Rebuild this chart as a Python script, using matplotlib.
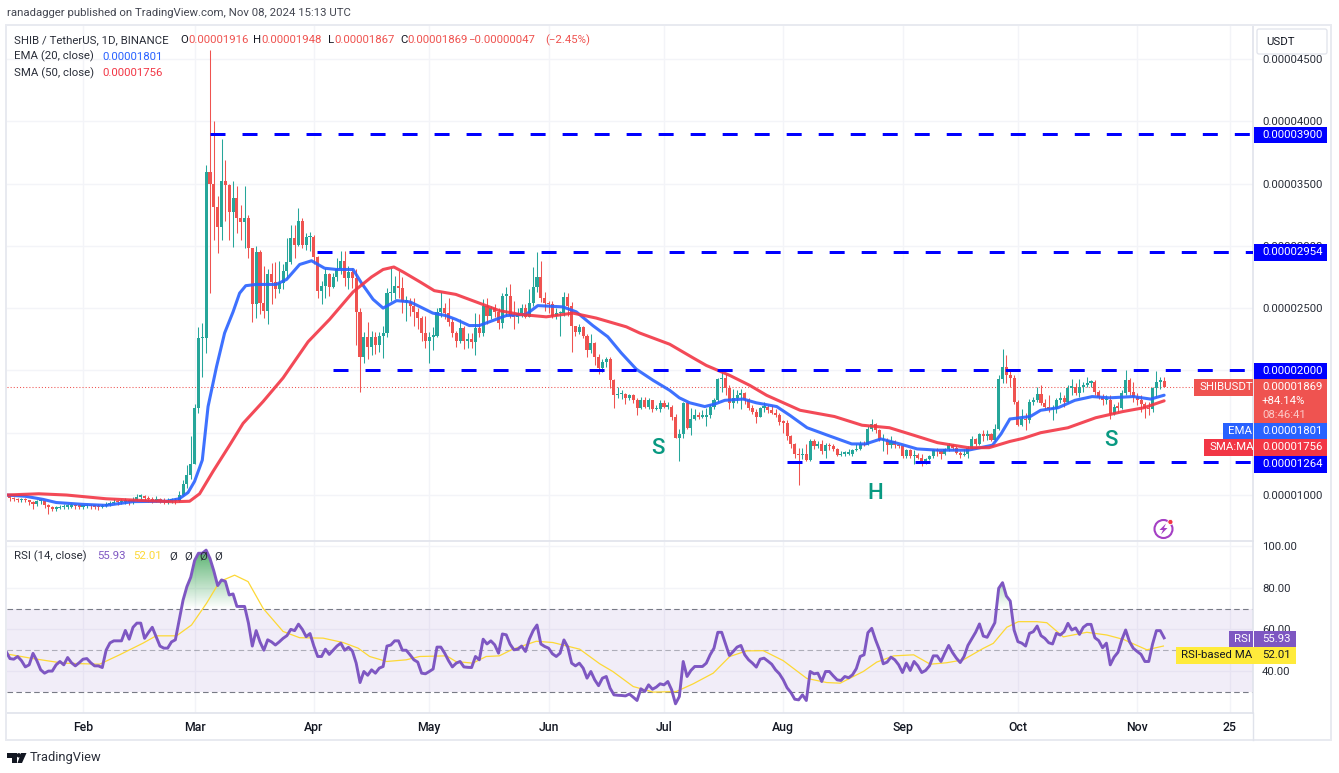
import numpy as np
import matplotlib
matplotlib.use("Agg")
import matplotlib.pyplot as plt
from matplotlib.patches import Rectangle, FancyBboxPatch, Polygon, Circle
from matplotlib.lines import Line2D
from matplotlib.path import Path
from matplotlib.transforms import Affine2D
from matplotlib.colors import to_rgb

# ---------- prices, in units of 0.00001 USDT ----------
first_open = 1.00
closes_jan = [.99,.975,.965,.96,.965,.96,.945,.925,.95,.955,.92,.905,.89,.895,.90,.905,.905,.92,.91,.905]
highs_jan = [1.01,.995,.985,.975,.98,.975,.96,.95,.96,.97,.955,.925,.915,.91,.92,.925,.93,.935,.93,.925]
lows_jan = [.96,.955,.95,.945,.945,.94,.92,.885,.91,.93,.895,.85,.87,.875,.885,.89,.89,.895,.89,.885]
closes_feb = [.91,.915,.91,.905,.90,.915,.92,.935,.945,.94,.945,.95,.945,.96,.985,.985,.98,.965,.955,.965,.955,.95,.955,.955,.95,1.0,1.09,1.16,1.25]
highs_feb = [.92,.93,.925,.92,.925,.93,.94,.95,.965,.96,.965,.975,.965,.985,1.01,1.01,1.0,.99,.985,.99,.98,.975,.98,.975,.975,1.03,1.12,1.24,1.47]
lows_feb = [.89,.895,.89,.885,.88,.895,.90,.91,.925,.92,.925,.93,.92,.93,.955,.96,.95,.945,.935,.94,.935,.93,.93,.935,.93,.945,.99,1.06,1.13]
closes_mar = [1.70,2.26,2.26,3.59,3.50,3.31,3.15,3.52,3.49,3.27,3.38,3.22,3.19,3.22,2.98,2.53,2.95,2.54,2.48,2.77,2.71,2.65,2.70,2.80,2.87,3.06,3.01,3.20,3.01,3.07,3.07]
highs_mar = [1.73,2.35,2.38,3.65,4.57,4.00,3.40,3.86,3.69,3.50,3.52,3.48,3.33,3.48,3.25,2.97,3.00,2.97,2.84,2.81,2.86,2.87,2.88,2.85,3.06,3.17,3.17,3.30,3.22,3.10,3.11]
lows_mar = [1.25,1.66,1.95,2.14,2.62,3.05,2.94,3.05,3.20,3.05,2.99,3.10,3.05,2.98,2.90,2.39,2.42,2.45,2.42,2.37,2.53,2.58,2.62,2.65,2.74,2.85,2.90,3.00,2.98,2.97,2.96]
closes_apr = [2.91,2.64,2.68,2.77,2.67,2.75,2.81,2.88,2.74,2.79,2.74,2.47,2.11,2.27,2.19,2.27,2.20,2.28,2.30,2.62,2.62,2.68,2.66,2.55,2.55,2.52,2.47,2.42,2.30,2.24]
highs_apr = [3.09,2.92,2.72,2.82,2.78,2.78,2.90,2.96,2.96,2.84,2.82,2.81,2.50,2.31,2.39,2.32,2.31,2.31,2.36,2.66,2.82,2.76,2.80,2.75,2.60,2.58,2.58,2.50,2.44,2.44]
lows_apr = [2.85,2.58,2.53,2.58,2.60,2.66,2.72,2.77,2.68,2.65,2.66,2.20,1.83,2.06,2.09,2.12,2.13,2.15,2.10,2.27,2.56,2.57,2.58,2.46,2.40,2.44,2.36,2.33,2.24,2.18]
closes_may = [2.27,2.28,2.47,2.50,2.46,2.39,2.30,2.24,2.34,2.24,2.25,2.23,2.34,2.30,2.52,2.44,2.50,2.47,2.38,2.60,2.60,2.44,2.43,2.46,2.50,2.43,2.54,2.67,2.75,2.58,2.54]
highs_may = [2.31,2.35,2.50,2.63,2.54,2.58,2.42,2.32,2.41,2.36,2.30,2.30,2.46,2.45,2.57,2.58,2.52,2.53,2.50,2.62,2.67,2.69,2.56,2.50,2.53,2.53,2.65,2.83,2.95,2.88,2.63]
lows_may = [2.06,2.16,2.27,2.43,2.41,2.36,2.27,2.19,2.22,2.17,2.18,2.18,2.12,2.27,2.28,2.37,2.41,2.43,2.33,2.34,2.44,2.42,2.33,2.38,2.43,2.42,2.43,2.52,2.63,2.55,2.48]
closes_jun = [2.53,2.44,2.46,2.46,2.59,2.52,2.36,2.31,2.35,2.28,2.16,2.22,2.11,2.02,2.07,2.09,1.92,1.80,1.81,1.81,1.78,1.80,1.76,1.70,1.76,1.71,1.76,1.69,1.69,1.74]
highs_jun = [2.56,2.56,2.50,2.48,2.63,2.62,2.55,2.36,2.37,2.36,2.29,2.29,2.23,2.13,2.09,2.11,2.11,1.93,1.87,1.84,1.82,1.81,1.81,1.78,1.79,1.79,1.78,1.76,1.72,1.76]
lows_jun = [2.46,2.42,2.41,2.28,2.44,2.44,2.15,2.28,2.29,2.26,2.11,2.14,2.04,1.97,1.99,2.03,1.86,1.70,1.78,1.77,1.73,1.76,1.74,1.64,1.69,1.70,1.69,1.67,1.68,1.67]
closes_jul = [1.71,1.71,1.63,1.46,1.49,1.74,1.54,1.61,1.64,1.63,1.63,1.64,1.71,1.76,1.93,1.94,1.86,1.74,1.78,1.80,1.82,1.76,1.70,1.67,1.63,1.70,1.71,1.68,1.66,1.64,1.59]
highs_jul = [1.76,1.75,1.72,1.65,1.53,1.75,1.75,1.70,1.69,1.67,1.68,1.70,1.73,1.78,1.94,2.01,1.97,1.88,1.85,1.84,1.85,1.83,1.78,1.72,1.69,1.71,1.75,1.72,1.72,1.69,1.66]
lows_jul = [1.70,1.69,1.60,1.46,1.27,1.46,1.53,1.48,1.60,1.61,1.62,1.55,1.62,1.69,1.75,1.83,1.80,1.69,1.70,1.74,1.69,1.73,1.68,1.65,1.58,1.63,1.67,1.66,1.65,1.63,1.56]
closes_aug = [1.58,1.47,1.41,1.33,1.32,1.33,1.28,1.43,1.39,1.41,1.35,1.40,1.39,1.37,1.32,1.33,1.33,1.33,1.36,1.37,1.41,1.40,1.53,1.57,1.52,1.44,1.44,1.40,1.43,1.40,1.39]
highs_aug = [1.60,1.60,1.48,1.42,1.38,1.38,1.41,1.45,1.45,1.43,1.44,1.42,1.42,1.41,1.38,1.35,1.35,1.37,1.37,1.41,1.43,1.43,1.55,1.61,1.58,1.53,1.49,1.46,1.47,1.44,1.41]
lows_aug = [1.50,1.44,1.38,1.30,1.08,1.29,1.27,1.27,1.37,1.38,1.33,1.30,1.36,1.35,1.31,1.31,1.31,1.32,1.31,1.35,1.36,1.39,1.40,1.51,1.50,1.43,1.35,1.33,1.38,1.38,1.38]
closes_sep = [1.31,1.36,1.31,1.32,1.30,1.26,1.29,1.31,1.36,1.35,1.33,1.37,1.40,1.38,1.34,1.32,1.33,1.38,1.45,1.41,1.49,1.47,1.49,1.44,1.53,1.93,2.03,1.96,1.94,1.75]
highs_sep = [1.40,1.37,1.37,1.36,1.34,1.33,1.30,1.32,1.37,1.38,1.36,1.38,1.42,1.41,1.39,1.35,1.37,1.39,1.47,1.46,1.50,1.52,1.52,1.50,1.57,1.96,2.17,2.12,2.00,1.96]
lows_sep = [1.30,1.30,1.30,1.25,1.29,1.23,1.25,1.28,1.30,1.31,1.29,1.32,1.35,1.36,1.33,1.30,1.31,1.30,1.37,1.39,1.40,1.43,1.44,1.43,1.43,1.52,1.90,1.90,1.87,1.73]
closes_oct = [1.56,1.61,1.60,1.75,1.76,1.81,1.74,1.71,1.69,1.69,1.76,1.78,1.75,1.86,1.87,1.82,1.87,1.88,1.90,1.91,1.83,1.79,1.76,1.76,1.65,1.71,1.70,1.82,1.92,1.83,1.79]
highs_oct = [1.76,1.69,1.66,1.77,1.79,1.87,1.88,1.77,1.80,1.72,1.78,1.83,1.80,1.88,1.93,1.90,1.93,1.91,1.95,1.92,1.92,1.84,1.81,1.80,1.80,1.73,1.75,1.84,2.00,1.94,1.91]
lows_oct = [1.55,1.55,1.52,1.58,1.72,1.75,1.72,1.69,1.67,1.60,1.66,1.74,1.71,1.74,1.80,1.80,1.79,1.83,1.87,1.87,1.80,1.77,1.72,1.73,1.61,1.64,1.67,1.69,1.80,1.80,1.75]
closes_nov = [1.76,1.73,1.70,1.69,1.86,1.91,1.916,1.869]
highs_nov = [1.82,1.80,1.75,1.75,1.87,1.996,1.95,1.948]
lows_nov = [1.72,1.67,1.62,1.64,1.67,1.79,1.85,1.867]

# ---------- moving averages: day of the year, value ----------
ema_days = [11,16,20.6,24,31,37,44,52.7,56,58.3,60,62,63.5,65.7,67.8,70,71.7,73.3,76,81.2,83.9,87.3,90.4,93.8,96.9,101.2,103.4,106.4,109,112.5,116,119.3,121.9,125.3,127.9,131.4,134,137.5,141,146.2,149.2,155.7,159.2,163.5,167.4,170.9,174.8,179.2,183.5,186,188.7,192.6,195.2,197.8,202.6,206,211.3,214.7,219.2,224.5,230.8,234.4,238.4,243.3,247.8,253.1,257.6,261.1,267.4,269.6,271.9,274.5,277.2,279.9,284.4,288.8,293.3,297.8,304,308.5,312]
ema_vals = [1.00,.99,.965,.94,.925,.917,.947,.95,.97,1.02,1.11,1.28,1.71,2.03,2.30,2.47,2.62,2.68,2.69,2.69,2.73,2.85,2.88,2.82,2.81,2.81,2.70,2.57,2.50,2.56,2.55,2.50,2.46,2.44,2.41,2.36,2.36,2.40,2.44,2.45,2.52,2.51,2.47,2.36,2.27,2.14,2.01,1.92,1.84,1.78,1.74,1.71,1.73,1.76,1.77,1.74,1.71,1.64,1.54,1.48,1.41,1.41,1.45,1.41,1.37,1.36,1.36,1.36,1.40,1.49,1.61,1.62,1.63,1.68,1.70,1.76,1.79,1.78,1.79,1.77,1.801]
sma_days = [11,19.5,26.7,37,45.7,54.4,58.7,61.3,64.8,69.1,72.6,77.8,83,89.5,95.1,101.2,106,109,111.8,114.2,118.6,122.3,127.9,134,139.2,144.4,151.4,158.3,164.4,172.2,175.7,183.5,189.6,193,199.1,204.3,208.7,217.4,226.3,233.5,240.6,246.9,253.1,261.1,266.5,271.9,275.4,279.9,287,294.2,301.3,306.7,312]
sma_vals = [1.00,1.01,1.00,.97,.957,.946,.95,1.01,1.19,1.40,1.575,1.75,1.94,2.23,2.41,2.63,2.75,2.81,2.83,2.79,2.71,2.64,2.61,2.54,2.48,2.45,2.43,2.46,2.42,2.35,2.30,2.21,2.10,2.04,1.96,1.88,1.80,1.68,1.63,1.56,1.54,1.48,1.42,1.38,1.38,1.43,1.455,1.50,1.54,1.62,1.67,1.70,1.756]

# ---------- RSI ----------
rsi_jan = [49.4,46,45.7,47,45,42,43,48.5,45,40.6,39,40,40,43,44.6,43,46.5,44,42.5,44]
rsi_feb = [45.7,46,44,42.5,42.5,41.7,50,53.5,54.5,54.5,54.5,59.5,55.3,61,63,63,55.7,58.5,61,56.5,52,51,51,54,55,64.5,74,80.5,85]
rsi_mar = [93,96.5,96.5,98,94,88,81,83.7,83,76.5,77,71,71,71,63,52,59.4,54,50,55,54,52.5,54,55.7,57,60,59.4,62.5,60,56.5,58]
rsi_apr = [52,47,47,50.5,48,50,52,53.4,50,51.4,49.7,43.8,34.5,39.8,38,40.6,39,41.4,42.2,52,52.5,54.5,54.5,50,50,47.8,45.4,44.3,39,38.7]
rsi_may = [39.8,41,51.5,51.5,48.6,45,42,43.8,44.6,42,41.8,41.7,47,45.4,55.3,53,54.5,52.6,48.6,57.8,57.4,52.9,50.2,50.5,52,49.4,55.3,59.4,62.1,53,51.8]
rsi_jun = [51,48.3,47,48.6,54.95,51.5,43.8,42.5,43.8,41.4,36.6,39.8,35.8,33,36.6,37.4,31.8,28.6,28.4,28.3,28.1,29,27.5,25.9,31.5,30.2,33.4,31.3,32.3,33.9]
rsi_jul = [33.4,35,31,24.3,27.8,44.6,37.4,40.3,42.2,42.2,42.2,43.8,47.8,51,58.6,58.6,53,47.5,49.4,51.5,52.3,47.8,45.4,43.8,41.9,45.7,46.2,44.8,43.3,40.6,38.7]
rsi_aug = [35.8,32,29.7,26.5,26.2,28.6,25.9,39.8,38.7,39,35,39.8,39.8,37.7,35.8,35.5,37.4,36.8,38.2,41.2,47,47.8,58.4,60.5,54.95,50.2,43.5,44.3,46.7,45.4,43]
rsi_sep = [39.3,43.8,40.3,44.6,42.5,39.3,40.3,42.5,47.3,47.3,44.6,48.6,52.3,48.9,46.2,44.1,47,52.3,55.5,58.6,62.6,56.8,56.2,59.7,63.2,79.7,82.4,76,73.6,59.7]
rsi_oct = [54.1,53.4,52,58.1,58.9,61.6,57,55.7,53.6,53,58.1,57.3,58.9,62.9,59.7,60.7,57.6,61,62.4,62.4,56,54.6,51.2,53.4,43,46.7,49,55,59.7,54.1,50.9]
rsi_nov = [49.4,48,44.6,44.6,53,59.4,59.4,55.93]
rsi_ma_days = [11.2,18,25.8,35.3,40.5,46.6,50,55.3,59.2,63.1,66.5,70.4,73.9,77.8,83,87.3,93.4,98.6,102.5,105.5,109.9,115,118.5,125.5,127.9,132.3,135.8,139.2,142.7,148.8,153.1,160.1,165.3,168.7,174,179.2,185.2,189.6,194.8,199.1,203.5,207.8,213,219.1,224.3,227.8,233.8,237.3,241.7,246.9,251.2,255.5,259.8,265,267.6,271.1,274.1,278.9,281.5,285.8,291.9,297.1,301.4,307.5,311.8]
rsi_ma_vals = [48.2,46,43.8,43.3,47.8,53.4,56.9,56.9,62.1,72.5,82.9,86,82.9,70.1,59,56,55.8,53.7,51,47,44.6,45.4,47,47.3,44.6,43.8,47,47.3,50.5,54.3,53.7,50.5,43.5,39.8,32.6,29.9,30.2,33.9,39,47,49.7,49.8,45,36.5,34.5,34.2,39.8,44.3,47.3,47.8,43.3,44,45.4,50.9,53.3,61,63.7,63.7,63.2,56.4,58.6,57.3,55.2,50.2,52.01]

# ---------- levels, ticks, labels ----------
level_vals = [3.90, 2.954, 2.00, 1.264]
level_starts = [64.0, 91.8, 96.0, 214.0]
level_labels = ["0.00003900", "0.00002954", "0.00002000", "0.00001264"]
price_ticks = [1.0, 1.5, 2.0, 2.5, 3.0, 3.5, 4.0, 4.5]
rsi_ticks = [100, 80, 60, 40]
rsi_grid = [100, 80, 60, 40, 20]
month_days = [31, 60, 91, 121, 152, 182, 213, 244, 274, 305, 329]
month_labels = ["Feb", "Mar", "Apr", "May", "Jun", "Jul", "Aug", "Sep", "Oct", "Nov", "25"]
pattern_letters = ["S", "H", "S"]
pattern_days = [180.5, 236.9, 298.2]
pattern_prices = [1.377, 1.016, 1.44]
last_close = 1.869

closes = np.array(closes_jan+closes_feb+closes_mar+closes_apr+closes_may+closes_jun+closes_jul+closes_aug+closes_sep+closes_oct+closes_nov)
highs = np.array(highs_jan+highs_feb+highs_mar+highs_apr+highs_may+highs_jun+highs_jul+highs_aug+highs_sep+highs_oct+highs_nov)
lows = np.array(lows_jan+lows_feb+lows_mar+lows_apr+lows_may+lows_jun+lows_jul+lows_aug+lows_sep+lows_oct+lows_nov)
rsi_vals = np.array(rsi_jan+rsi_feb+rsi_mar+rsi_apr+rsi_may+rsi_jun+rsi_jul+rsi_aug+rsi_sep+rsi_oct+rsi_nov)
opens = np.concatenate([[first_open], closes[:-1]])
assert len(closes) == len(highs) == len(lows) == len(rsi_vals) == 302, (len(closes), len(highs), len(lows), len(rsi_vals))
days = np.arange(11, 11 + len(closes))

# ---------- style ----------
UP, DOWN = "#26a69a", "#ef5350"
BLUE, RED, PURPLE, YELLOW = "#2962ff", "#f23645", "#7e57c2", "#ffeb3b"
GRID, FRAME, INK = "#f3f4f8", "#e0e3eb", "#131722"
FS = 8.2
plt.rcParams["font.family"] = ["Roboto", "DejaVu Sans"]
W, H = 1339, 773
fig = plt.figure(figsize=(W/100, H/100), dpi=100, facecolor="white")
pix = Affine2D().scale(1, -1).translate(0, H)
X0, X1 = 7, 1253
ax = fig.add_axes([X0/W, 1-541/H, (X1-X0)/W, (541-26)/H])
rs = fig.add_axes([X0/W, 1-713/H, (X1-X0)/W, (713-542)/H])
xlim = (11.24, 335.1)

def ptext(x, y, s, color=INK, size=FS, ha="left", **kw):
    fig.text(x, y, s, transform=pix, color=color, fontsize=size, ha=ha, va="center", **kw)

def box(x0, y0, x1, y1, color):
    fig.add_artist(Rectangle((x0, y0), x1-x0, y1-y0, transform=pix, facecolor=color, edgecolor="none", zorder=2))

# ---------- main pane ----------
ax.set_xlim(*xlim)
ax.set_ylim(0.631, 4.764)
ax.yaxis.tick_right()
ax.set_yticks(price_ticks)
ax.set_yticklabels([f"{v*1e-5:.8f}" for v in price_ticks], color="#2a2e39", fontsize=FS)
ax.set_xticks(month_days)
ax.tick_params(length=0, labelbottom=False, pad=6.5)
ax.grid(color=GRID, lw=1)
ax.set_axisbelow(True)
for k, s in ax.spines.items():
    s.set_visible(k in ("right", "bottom"))
    s.set_color(FRAME)
    s.set_linewidth(1.2)

ax.plot(xlim, [last_close]*2, color=DOWN, lw=0.75, dashes=(1, 2), zorder=2)
up = closes >= opens
for mask, col in ((up, UP), (~up, DOWN)):
    ax.vlines(days[mask], lows[mask], highs[mask], color=col, lw=0.75, zorder=3)
    ax.bar(days[mask], np.maximum(np.abs(closes[mask]-opens[mask]), 0.012), bottom=np.minimum(closes[mask], opens[mask]),
           width=0.8, color=col, linewidth=0, zorder=3)
ax.plot(ema_days, ema_vals, color=BLUE, lw=2.2, solid_joinstyle="round", solid_capstyle="round", alpha=.9, zorder=4)
ax.plot(sma_days, sma_vals, color=RED, lw=2.2, solid_joinstyle="round", solid_capstyle="round", alpha=.9, zorder=4)
for v, s in zip(level_vals, level_starts):
    ax.plot([s, xlim[1]], [v, v], color="#0000ff", lw=2.16, dashes=(5, 5.67), dash_capstyle="butt", zorder=5)
for t, d, p in zip(pattern_letters, pattern_days, pattern_prices):
    ax.text(d, p, t, color="#089981", fontsize=16, ha="center", va="center", fontweight="medium", zorder=6)

# ---------- RSI pane ----------
rs.set_xlim(*xlim)
rs.set_ylim(19.9, 101.9)
rs.yaxis.tick_right()
rs.set_yticks(rsi_grid)
rs.set_yticklabels([f"{v:.2f}" if v in rsi_ticks else "" for v in rsi_grid], color="#2a2e39", fontsize=FS)
rs.set_xticks(month_days)
rs.set_xticklabels(month_labels, color=INK, fontsize=8.8, fontweight="medium")
rs.tick_params(length=0, pad=6.5)
rs.tick_params(axis="x", pad=5.5)
rs.grid(color=GRID, lw=1)
rs.set_axisbelow(True)
for k, s in rs.spines.items():
    s.set_visible(k in ("right", "bottom"))
    s.set_color(FRAME)
    s.set_linewidth(1.2)
rs.axhspan(30, 70, color=PURPLE, alpha=.1, lw=0, zorder=1)
for v, a in ((70, 1), (50, .55), (30, 1)):
    rs.plot(xlim, [v, v], color="#787b86", lw=0.8, dashes=(5, 3), alpha=a, zorder=2)
poly = rs.fill_between(days, 70, rsi_vals, where=rsi_vals > 70, interpolate=True, facecolor="none", edgecolor="none")
grad = np.zeros((64, 2, 4))
grad[..., :3] = to_rgb("#2e9e4b")
grad[..., 3] = np.repeat(np.linspace(0.85, 0, 64)[:, None], 2, axis=1)
im = rs.imshow(grad, extent=(xlim[0], xlim[1], 70, 100), aspect="auto", zorder=2, origin="upper")
im.set_clip_path(Path.make_compound_path(*poly.get_paths()), rs.transData)
rs.set_xlim(*xlim)
rs.set_ylim(19.9, 101.9)
rs.plot(rsi_ma_days, rsi_ma_vals, color="#fdd835", lw=0.9, zorder=3)
rs.plot(days, rsi_vals, color=PURPLE, lw=2.1, solid_joinstyle="round", zorder=4)

# ---------- frame ----------
fig.add_artist(Rectangle((6, 25), 1325, 715, transform=pix, facecolor="none", edgecolor="#e8eaf0", lw=1.4, zorder=1))
fig.add_artist(Line2D([X1, X1], [713, 740], transform=pix, color=FRAME, lw=1, zorder=1))

# ---------- header and legends ----------
ptext(7, 13, "ranadagger published on TradingView.com, Nov 08, 2024 15:13 UTC", color="#434651")
ptext(14, 40, "SHIB / TetherUS, 1D, BINANCE", color="#2a2e39")
for x, s, c in [(180, "O", INK), (188, "0.00001916", DOWN), (253, "H", INK), (261, "0.00001948", DOWN),
                (328, "L", INK), (334, "0.00001867", DOWN), (400, "C", INK), (407, "0.00001869", DOWN),
                (468, "\u22120.00000047", DOWN), (545, "(\u22122.45%)", DOWN)]:
    ptext(x, 40, s, color=c)
ptext(14, 56.5, "EMA (20, close)", color="#2a2e39")
ptext(102, 56.5, "0.00001801", color=BLUE)
ptext(14, 73, "SMA (50, close)", color="#2a2e39")
ptext(102, 73, "0.00001756", color=RED)
ptext(14, 556, "RSI (14, close)", color="#2a2e39")
ptext(97, 556, "55.93", color=PURPLE)
ptext(133, 556, "52.01", color="#fdd835")
for x in (169, 184, 199, 214):
    ptext(x, 556, "\u00d8", color="#2a2e39")

# ---------- price scale tags ----------
fig.add_artist(FancyBboxPatch((1259, 31), 66, 21, boxstyle="round,pad=2", transform=pix, facecolor="white", edgecolor=FRAME, lw=0.9, zorder=2))
ptext(1266, 42, "USDT", color=INK)
WHITE = "white"
for (y0, y1), lab in zip([(126.7, 143.3), (244, 260.7), (362.7, 379), (456, 472.7)], level_labels):
    box(1254, y0, 1327, y1, "#0000ff")
    ptext(1262, (y0+y1)/2, lab, color=WHITE)
box(1254, 379, 1327, 422.7, DOWN)
ptext(1262, 387.5, "0.00001869", color=WHITE)
ptext(1262, 401, "+84.14%", color=WHITE)
ptext(1262, 415, "08:46:41", color="#fbc9c8")
box(1254, 422.7, 1327, 439.3, BLUE)
ptext(1262, 431, "0.00001801", color=WHITE)
box(1254, 439.3, 1327, 456, RED)
ptext(1262, 447.5, "0.00001756", color=WHITE)
box(1194, 379, 1252.7, 395.7, DOWN)
ptext(1199, 387.5, "SHIBUSDT", color=WHITE)
box(1223, 422.7, 1253, 439.3, BLUE)
ptext(1228, 431, "EMA", color=WHITE)
box(1204, 439.3, 1253, 456, RED)
ptext(1209, 447.5, "SMA:MA", color=WHITE)

box(1229, 630.7, 1296, 647, PURPLE)
fig.add_artist(Line2D([1253, 1253], [630.7, 647], transform=pix, color="white", lw=.7, zorder=2))
ptext(1234, 639, "RSI", color=WHITE)
ptext(1262, 639, "55.93", color=WHITE)
box(1176, 647.3, 1296, 663.7, YELLOW)
ptext(1181, 655.5, "RSI-based MA", color=INK)
ptext(1262, 655.5, "52.01", color=INK)

# ---------- bottom logo ----------
fig.add_artist(Polygon([(7, 753), (17, 753), (17, 763), (12, 763), (12, 757.5), (7, 757.5)], transform=pix, facecolor=INK, edgecolor="none", zorder=2))
fig.add_artist(Circle((18.8, 755.3), 2.2, transform=pix, facecolor=INK, edgecolor="none", zorder=2))
fig.add_artist(Polygon([(21, 753), (26.5, 753), (22, 763), (17.5, 763)], transform=pix, facecolor=INK, edgecolor="none", zorder=2))
ptext(30, 758, "TradingView", color="#2a2e39", size=9.3)

# ---------- bolt icon ----------
fig.add_artist(Circle((1163.5, 529), 9, transform=pix, facecolor="white", edgecolor="#a43fc4", lw=1.5, zorder=2))
fig.add_artist(Polygon([(1166, 523.5), (1159.5, 530), (1163, 530), (1161, 534.5), (1167.5, 528), (1164, 528)], transform=pix, facecolor="#a43fc4", edgecolor="none", zorder=2))
fig.add_artist(Circle((1170.4, 522), 2.6, transform=pix, facecolor="#f23645", edgecolor="white", lw=.6, zorder=2))

fig.savefig("out.png", dpi=100, facecolor="white")
